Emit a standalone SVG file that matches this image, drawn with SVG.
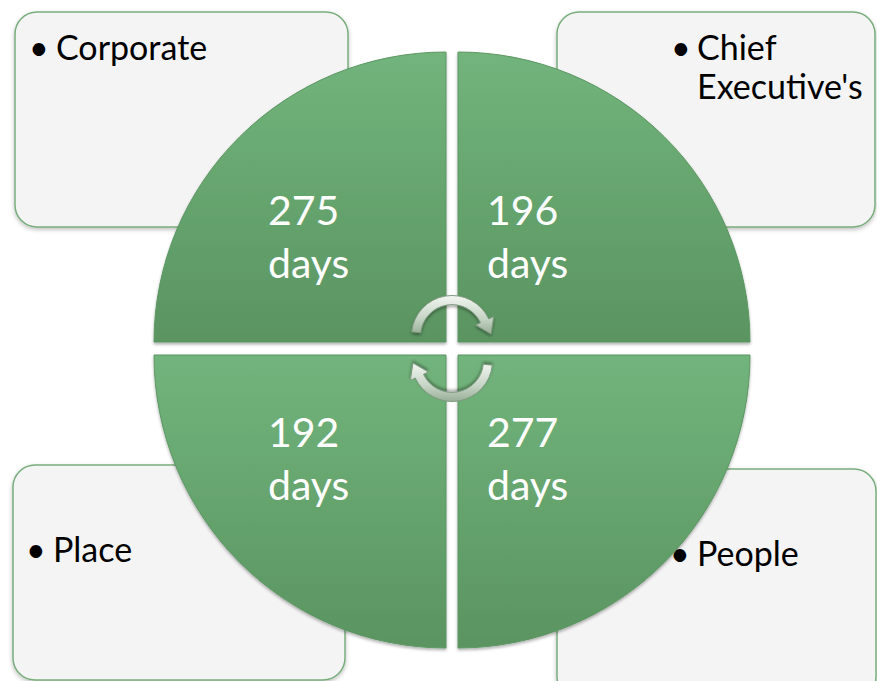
<svg xmlns="http://www.w3.org/2000/svg" width="877" height="681" viewBox="0 0 877 681">
  <defs>
    <style>
      .box { fill: #f4f4f4; stroke: #78ad7c; stroke-width: 1.5; filter: url(#boxShadow); }
      .quarter { fill: url(#pieFill); stroke: #5b9662; stroke-width: 1; filter: url(#pieShadow); }
      .label { font-family: Lato, "Open Sans", "Liberation Sans", sans-serif; font-size: 34px; fill: #000; }
      .value { font-family: Lato, "Open Sans", "Liberation Sans", sans-serif; font-size: 41px; fill: #fff; }
      .cyc { stroke: #7f9a80; stroke-width: 1; filter: url(#arrowShadow); }
    </style>
    <linearGradient id="pieFill" x1="0" y1="0" x2="0" y2="1">
      <stop offset="0" stop-color="#72b47c"/>
      <stop offset="0.5" stop-color="#66a46e"/>
      <stop offset="1" stop-color="#5a9461"/>
    </linearGradient>
    <linearGradient id="arrowUp" x1="0" y1="0" x2="0" y2="1">
      <stop offset="0" stop-color="#f2f6f1"/>
      <stop offset="0.6" stop-color="#c5d4c4"/>
      <stop offset="1" stop-color="#98af98"/>
    </linearGradient>
    <linearGradient id="arrowDown" x1="0" y1="1" x2="0" y2="0">
      <stop offset="0" stop-color="#f2f6f1"/>
      <stop offset="0.6" stop-color="#c5d4c4"/>
      <stop offset="1" stop-color="#98af98"/>
    </linearGradient>
    <filter id="boxShadow" x="-5%" y="-5%" width="110%" height="115%">
      <feDropShadow dx="0" dy="2" stdDeviation="2" flood-color="#000" flood-opacity="0.25"/>
    </filter>
    <filter id="pieShadow" x="-5%" y="-5%" width="110%" height="110%">
      <feDropShadow dx="0" dy="2" stdDeviation="1.5" flood-color="#000" flood-opacity="0.3"/>
    </filter>
    <filter id="arrowShadow" x="-20%" y="-20%" width="140%" height="150%">
      <feDropShadow dx="0" dy="2" stdDeviation="1.5" flood-color="#000" flood-opacity="0.35"/>
    </filter>
  </defs>

  <!-- corner text boxes -->
  <g id="box-corporate">
    <rect class="box" x="15" y="12" width="333" height="215" rx="22"/>
    <text class="label" x="29" y="60">•</text>
    <text class="label" x="56" y="60">Corporate</text>
  </g>
  <g id="box-chief-executive">
    <rect class="box" x="557" y="12" width="318" height="215" rx="22"/>
    <text class="label" x="671" y="60">•</text>
    <text class="label" x="697" y="60">Chief</text>
    <text class="label" x="697" y="99">Executive's</text>
  </g>
  <g id="box-place">
    <rect class="box" x="13" y="465" width="332" height="215" rx="22"/>
    <text class="label" x="26" y="562">•</text>
    <text class="label" x="53" y="562">Place</text>
  </g>
  <g id="box-people">
    <rect class="box" x="557" y="469" width="319" height="230" rx="22"/>
    <text class="label" x="670" y="566">•</text>
    <text class="label" x="697" y="566">People</text>
  </g>

  <!-- pie quarters -->
  <g id="quarter-275">
    <path class="quarter" d="M446,342 L154,342 A292,290 0 0 1 446,52 Z"/>
    <text class="value" x="268" y="225">275</text>
    <text class="value" x="268" y="278">days</text>
  </g>
  <g id="quarter-196">
    <path class="quarter" d="M458,342 L458,52 A292,290 0 0 1 750,342 Z"/>
    <text class="value" x="487" y="225">196</text>
    <text class="value" x="487" y="278">days</text>
  </g>
  <g id="quarter-192">
    <path class="quarter" d="M446,355 L446,648 A292,293 0 0 1 154,355 Z"/>
    <text class="value" x="268" y="447">192</text>
    <text class="value" x="268" y="500">days</text>
  </g>
  <g id="quarter-277">
    <path class="quarter" d="M458,355 L750,355 A292,293 0 0 1 458,648 Z"/>
    <text class="value" x="487" y="447">277</text>
    <text class="value" x="487" y="500">days</text>
  </g>

  <!-- circular arrows in the centre -->
  <g id="connectors">
    <path class="cyc" fill="url(#arrowUp)" d="M411.7,331.8 A40.5,40.5 0 0 1 488.7,318.9 L493.7,316.6 L491,334 L475.6,325 L480.5,322.7 A31.5,31.5 0 0 0 420.7,332.7 Z"/>
    <path class="cyc" fill="url(#arrowDown)" transform="rotate(180 452 348.5)" d="M411.7,331.8 A40.5,40.5 0 0 1 488.7,318.9 L493.7,316.6 L491,334 L475.6,325 L480.5,322.7 A31.5,31.5 0 0 0 420.7,332.7 Z"/>
  </g>
</svg>
